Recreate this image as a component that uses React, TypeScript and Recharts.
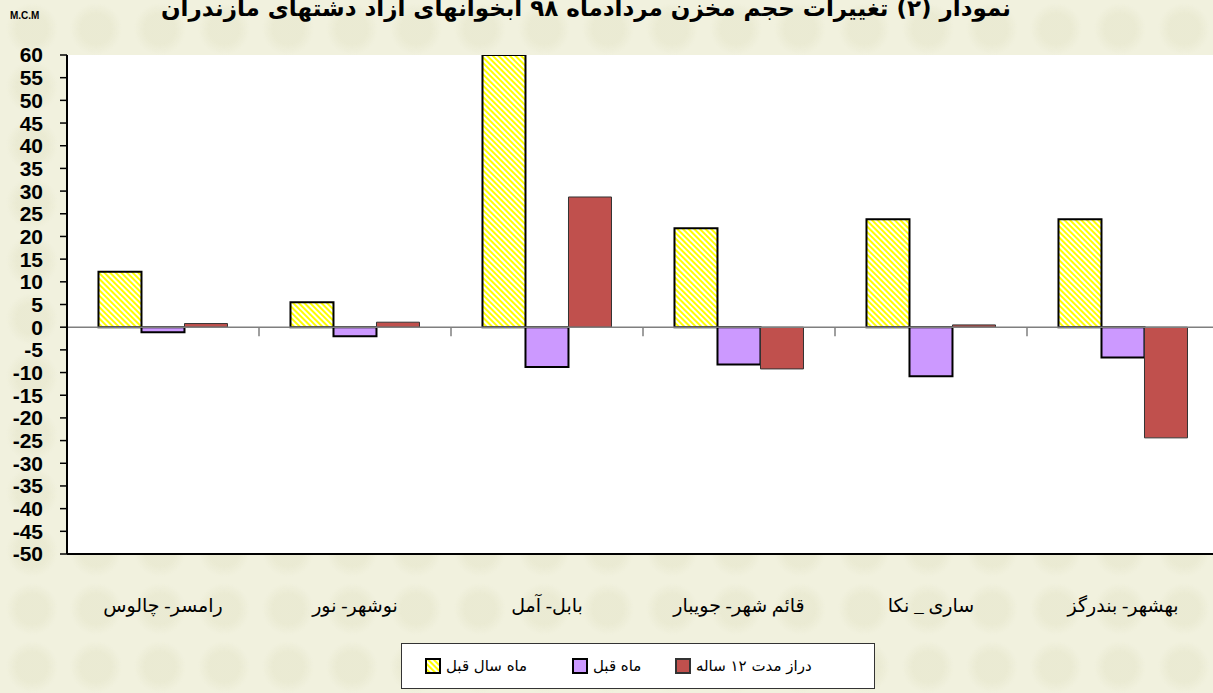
import React from 'react';
import { BarChart, Bar, XAxis, YAxis, CartesianGrid, ReferenceLine } from 'recharts';

const categories = ['رامسر- چالوس', 'نوشهر- نور', 'بابل- آمل', 'قائم شهر- جویبار', 'ساری _ نکا', 'بهشهر- بندرگز'];
const yearAgo = [12.2, 5.5, 60, 21.8, 23.8, 23.8];
const monthAgo = [-1.1, -2.0, -8.8, -8.2, -10.8, -6.7];
const longTerm = [0.8, 1.1, 28.7, -9.2, 0.5, -24.4];
const seriesNames = ['ماه سال قبل', 'ماه قبل', 'دراز مدت ۱۲ ساله'];
const yTicks = [-50, -45, -40, -35, -30, -25, -20, -15, -10, -5, 0, 5, 10, 15, 20, 25, 30, 35, 40, 45, 50, 55, 60];
const title = 'نمودار (۲) تغییرات حجم مخزن مردادماه ۹۸ آبخوانهای آزاد دشتهای مازندران';
const unitLabel = 'M.C.M';

const data = categories.map((c, i) => ({
  name: c,
  yearAgo: yearAgo[i],
  monthAgo: monthAgo[i],
  longTerm: longTerm[i],
}));

const colors = { yearAgo: 'url(#hatch)', monthAgo: '#cc99ff', longTerm: '#c0504d' };

const Swatch = ({ kind }: { kind: string }) => (
  <svg width={16} height={16} style={{ display: 'block' }}>
    <defs>
      <pattern id="hatchLegend" patternUnits="userSpaceOnUse" width={4} height={4} patternTransform="rotate(-45)">
        <rect width={4} height={4} fill="#ffffff" />
        <rect width={2} height={4} fill="#ffff00" />
      </pattern>
    </defs>
    <rect x={1} y={1} width={14} height={14}
      fill={kind === 'yearAgo' ? 'url(#hatchLegend)' : (colors as any)[kind]}
      stroke={kind === 'longTerm' ? '#333' : '#000'} strokeWidth={2} />
  </svg>
);

export default function App() {
  const keys = ['yearAgo', 'monthAgo', 'longTerm'];
  const itemWidths = [147, 103, 180];
  return (
    <div style={{
      position: 'absolute', left: 0, top: 0, width: 1213, height: 693, overflow: 'hidden',
      backgroundColor: '#f1f1de',
      backgroundImage: 'radial-gradient(circle at 50% 50%, rgba(222,222,190,0.35) 0px, rgba(222,222,190,0.35) 15px, rgba(241,241,222,0) 26px)',
      backgroundSize: '64px 58px',
    }}>
      <div style={{
        position: 'absolute', left: 0, top: -5, width: 1172, textAlign: 'center',
        fontFamily: '"DejaVu Sans", sans-serif', fontWeight: 'bold', fontSize: 23, color: '#000',
        whiteSpace: 'nowrap', direction: 'rtl',
      }}>{title}</div>
      <div style={{
        position: 'absolute', left: 10, top: 10, fontFamily: '"Liberation Sans", Arial, sans-serif',
        fontWeight: 'bold', fontSize: 10, color: '#000',
      }}>{unitLabel}</div>
      <div style={{ position: 'absolute', left: 0, top: 0 }}>
        <BarChart width={1240} height={693} data={data}
          margin={{ top: 55, right: 21, left: 0, bottom: 79 }}
          barCategoryGap="16.4%" barGap={0}>
          <defs>
            <pattern id="hatch" patternUnits="userSpaceOnUse" width={4} height={4} patternTransform="rotate(-45)">
              <rect width={4} height={4} fill="#ffffff" />
              <rect width={2} height={4} fill="#ffff00" />
            </pattern>
          </defs>
          <CartesianGrid fill="#ffffff" horizontal={false} vertical={false} />
          <XAxis dataKey="name" height={60} axisLine={{ stroke: '#000', strokeWidth: 2 }}
            tickLine={false} tickSize={0} tickMargin={45} interval={0}
            tick={{ fontSize: 19, fill: '#000', fontFamily: '"Liberation Serif", "DejaVu Sans", serif' }} />
          <XAxis xAxisId="top" dataKey="name" orientation="top"
            height={0} tick={false} tickLine={false} axisLine={{ stroke: '#000', strokeWidth: 2 }} />
          <YAxis width={67} domain={[-50, 60]} ticks={yTicks} interval={0} allowDataOverflow
            axisLine={{ stroke: '#000', strokeWidth: 2 }} tickLine={{ stroke: '#000', strokeWidth: 1.5 }}
            tickSize={7} tickMargin={17}
            tick={{ fontSize: 21, fontWeight: 'bold', fill: '#000', fontFamily: '"Liberation Sans", Arial, sans-serif' }} />
          <ReferenceLine y={0} stroke="#7f7f7f" strokeWidth={1.5} />
          {categories.slice(1).map((c) => (
            <ReferenceLine key={c} position="start" segment={[{ x: c, y: 0 }, { x: c, y: -2 }]}
              stroke="#7f7f7f" strokeWidth={1.5} />
          ))}
          <Bar dataKey="yearAgo" name={seriesNames[0]} fill="url(#hatch)" stroke="#000" strokeWidth={2} isAnimationActive={false} />
          <Bar dataKey="monthAgo" name={seriesNames[1]} fill={colors.monthAgo} stroke="#000" strokeWidth={2} isAnimationActive={false} />
          <Bar dataKey="longTerm" name={seriesNames[2]} fill={colors.longTerm} stroke="#333" strokeWidth={1} isAnimationActive={false} />
        </BarChart>
      </div>
      <div style={{
        position: 'absolute', left: 401, top: 643, width: 474, height: 46,
        background: '#fff', border: '1.5px solid #333', boxSizing: 'border-box',
        display: 'flex', alignItems: 'center', paddingLeft: 23,
        fontFamily: '"DejaVu Sans", sans-serif', fontSize: 15, color: '#000',
      }}>
        {keys.map((k, i) => (
          <div key={k} style={{ display: 'flex', alignItems: 'center', width: itemWidths[i], flex: 'none' }}>
            <Swatch kind={k} />
            <span style={{ marginLeft: 5, direction: 'rtl', whiteSpace: 'nowrap' }}>{seriesNames[i]}</span>
          </div>
        ))}
      </div>
    </div>
  );
}
